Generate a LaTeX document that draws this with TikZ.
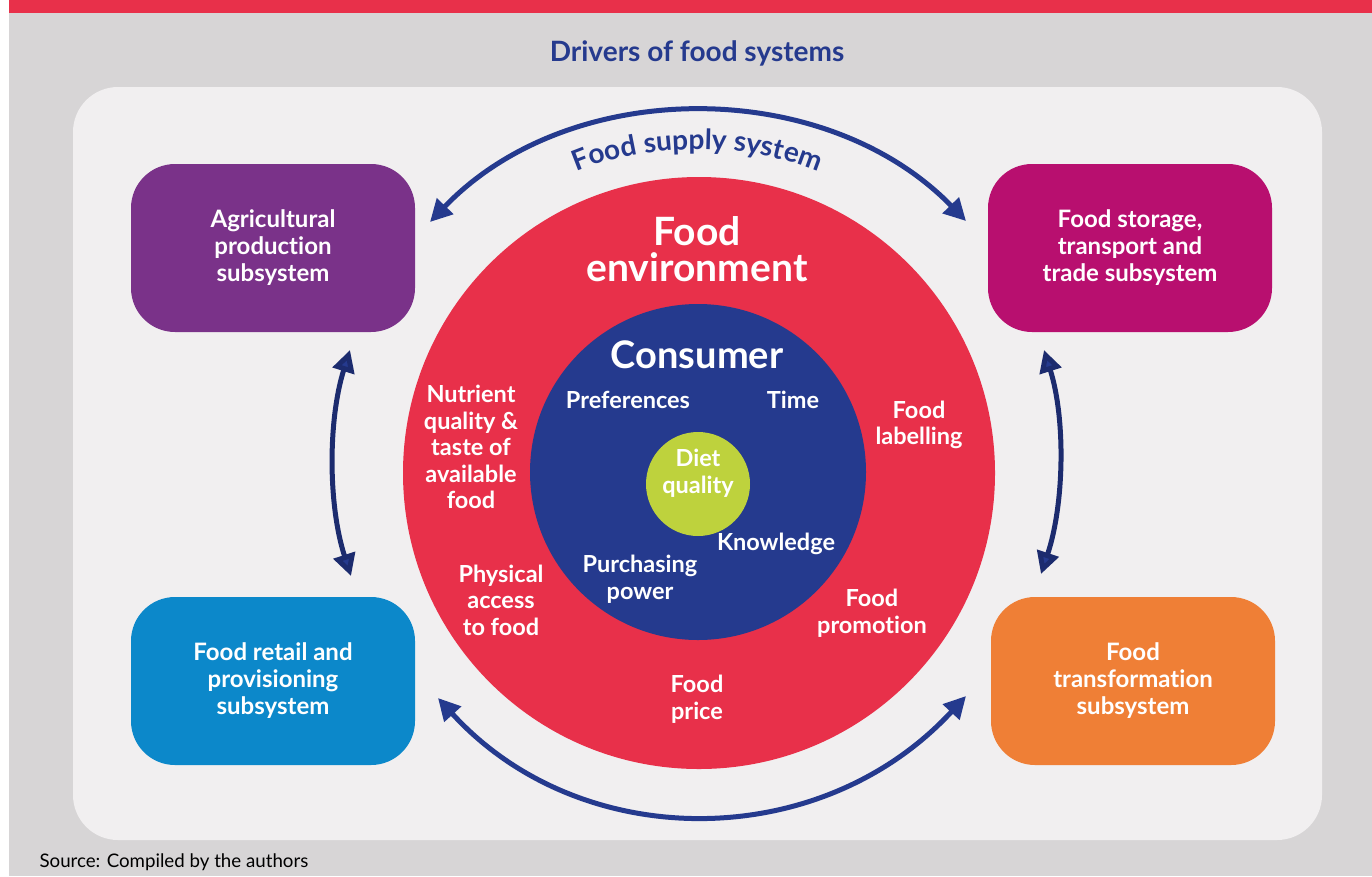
\documentclass[tikz,border=0pt]{standalone}
\usepackage{fontspec}
\setmainfont{Lato}[Ligatures=NoCommon]
\usetikzlibrary{arrows.meta,decorations.text}
\definecolor{bggray}{HTML}{D7D5D6}
\definecolor{panel}{HTML}{F1EFF0}
\definecolor{banner}{HTML}{E8304A}
\definecolor{navy}{HTML}{253A8E}
\definecolor{navydark}{HTML}{1C2B6E}
\definecolor{envred}{HTML}{E8304A}
\definecolor{purp}{HTML}{7A3289}
\definecolor{magen}{HTML}{B80F6F}
\definecolor{bluebox}{HTML}{0C88CA}
\definecolor{orangebox}{HTML}{EF7F36}
\definecolor{dietgreen}{HTML}{BED23D}
\tikzset{
  sysbox/.style={rectangle, rounded corners=44pt, minimum width=284pt, minimum height=168pt,
    inner sep=0pt, text=white, align=center, font=\bfseries\fontsize{24}{27}\selectfont},
  lbl/.style={text=white, align=center, inner sep=0pt, font=\bfseries\fontsize{23.5}{26.5}\selectfont},
  bigl/.style={text=white, align=center, inner sep=0pt, font=\bfseries\fontsize{39}{36}\selectfont},
  ring/.style={circle, inner sep=0pt},
  supply/.style={line width=5pt, draw=navy, {Triangle[length=22pt,width=22pt]}-{Triangle[length=22pt,width=22pt]}},
  supplyv/.style={line width=5pt, draw=navydark, {Triangle[length=22pt,width=22pt,fill=navy]}-{Triangle[length=22pt,width=22pt,fill=navy]}}
}
\begin{document}
\begin{tikzpicture}[x=1pt,y=-1pt]
\useasboundingbox (0,0) rectangle (1372,876);
\fill[white] (0,0) rectangle (1372,876);
\fill[bggray] (9,0) rectangle (1372,876);
\fill[banner] (9,0) rectangle (1372,13);
\fill[panel, rounded corners=45pt] (73,87) rectangle (1322,840);

\node[text=navy, font=\bfseries\fontsize{28}{30}\selectfont] (title) at (697,53) {Drivers of food systems};
\node[anchor=west, font=\fontsize{18.7}{20}\selectfont] (source) at (36,862) {Source: Compiled by the authors};

% boxes
\node[sysbox, fill=purp] (agri) at (273,248) {Agricultural\\production\\subsystem};
\node[sysbox, fill=magen] (store) at (1130,248) {Food storage,\\transport and\\trade subsystem};
\node[sysbox, fill=bluebox] (retail) at (273,681) {Food retail and\\provisioning\\subsystem};
\node[sysbox, fill=orangebox] (transf) at (1133,681) {Food\\transformation\\subsystem};

% circles
\node[ring, fill=envred, minimum size=592pt] (env) at (699,473) {};
\node[ring, fill=navy, minimum size=336pt] (cons) at (698,472) {};
\node[ring, fill=dietgreen, minimum size=104pt] (diet) at (698,484) {};

% texts
\node[bigl] (envt) at (697,249) {Food\\environment};
\node[text=white, font=\bfseries\fontsize{38}{36}\selectfont] (const) at (697,355) {Consumer};
\node[lbl] (pref) at (628,400) {Preferences};
\node[lbl] (time) at (793,400) {Time};
\node[lbl] (dietq) at (698,473) {Diet\\quality};
\node[lbl] (know) at (776,544) {Knowledge};
\node[lbl] (purch) at (640,579) {Purchasing\\power};
\node[lbl] (nutr) at (471,447) {Nutrient\\quality \&\\taste of\\available\\food};
\node[lbl] (label) at (919,425) {Food\\labelling};
\node[lbl] (phys) at (501,600) {Physical\\access\\to food};
\node[lbl] (promo) at (872,613) {Food\\promotion};
\node[lbl] (price) at (697,699) {Food\\price};

% arrows
\coordinate (tl) at (430,222);
\coordinate (tr) at (966,221);
\coordinate (bl) at (438,698);
\coordinate (br) at (966,696);
\coordinate (lt) at (350,350);
\coordinate (lb) at (351,576);
\coordinate (rt) at (1044,350);
\coordinate (rb) at (1041,574);
\draw[supply] (tl) .. controls (570,76) and (825,76) .. (tr);
\draw[supply] (bl) .. controls (580,854) and (820,854) .. (br);
\draw[supplyv] (lt) .. controls (328,420) and (328,505) .. (lb);
\draw[supplyv] (rt) .. controls (1066,420) and (1064,505) .. (rb);

\path[decorate, decoration={text along path, text align=center, text color=navy,
  text={|\bfseries\fontsize{28}{28}\selectfont|Food supply system}}]
  (540,192) .. controls (620,135) and (775,135) .. (855,192);
\end{tikzpicture}
\end{document}
